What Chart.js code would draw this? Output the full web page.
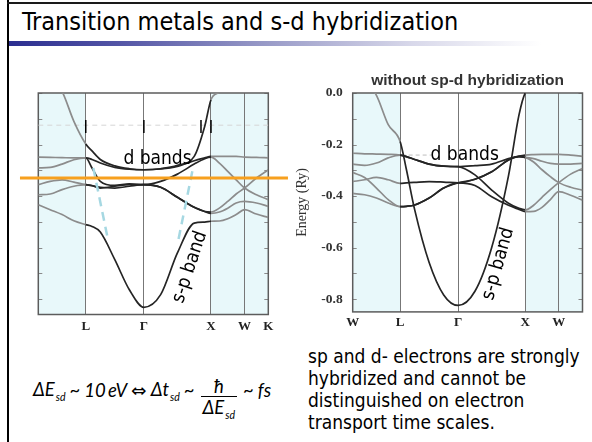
<!DOCTYPE html>
<html>
<head>
<meta charset="utf-8">
<title>Transition metals and s-d hybridization</title>
<script src="https://cdn.jsdelivr.net/npm/chart.js@4.4.1/dist/chart.umd.min.js"></script>
<style>
  html, body { margin: 0; padding: 0; background: #fff; }
  body { position: relative; width: 592px; height: 442px; overflow: hidden;
         font-family: "DejaVu Sans Condensed", "DejaVu Sans", sans-serif; color: #000; }
  .abs { position: absolute; }
  #edgeLeft { left: 6.5px; top: 0; width: 2.7px; height: 442px; background: #000; }
  #edgeTop { left: 6.5px; top: 2px; width: 586px; height: 1.6px; background: #1a1a1a; }
  #title { left: 22px; top: 9.3px; font-size: 25px; line-height: 25px; white-space: nowrap; }
  #rule { left: 9px; top: 41px; width: 560px; height: 4.5px;
          background: linear-gradient(to right, #2b2e90 0%, #5456a6 20%, #9698c6 45%, #d8d8ea 72%, #ffffff 95%); }
  canvas { position: absolute; }
  #hybCanvas { left: 10px; top: 85px; }
  #freeCanvas { left: 290px; top: 60px; }
  #formula { left: 33px; top: 365px; height: 50px; display: flex; align-items: center;
             font-family: Lato, "DejaVu Sans", sans-serif; font-style: italic; font-size: 18.5px; white-space: nowrap; }
  #formula sub { font-size: 10.5px; vertical-align: -5px; margin-left: 1px; }
  #formula .op { margin: 0 4px; }
  #formula .frac { display: inline-flex; flex-direction: column; align-items: center; margin: 0 2px;
                   position: relative; top: 10px; }
  #formula .num { padding: 0 0 1px 0; line-height: 18px; }
  #formula .den { border-top: 1px solid #000; padding: 1px 2px 0 2px; line-height: 18px; }
  #note { left: 308px; top: 345.4px; font-size: 19px; line-height: 22px; white-space: nowrap; }
</style>
</head>
<body>
<div id="edgeLeft" class="abs"></div>
<div id="edgeTop" class="abs"></div>
<div id="title" class="abs">Transition metals and s-d hybridization</div>
<div id="rule" class="abs"></div>

<canvas id="hybCanvas" width="290" height="255"></canvas>
<canvas id="freeCanvas" width="300" height="280"></canvas>

<div id="formula" class="abs">
  <span>&Delta;E<sub>sd</sub></span>
  <span class="op">~</span>
  <span>10&#8201;eV</span>
  <span class="op">&#8660;</span>
  <span>&Delta;t<sub>sd</sub></span>
  <span class="op">~</span>
  <span class="frac"><span class="num">&#295;</span><span class="den">&Delta;E<sub>sd</sub></span></span>
  <span class="op">~</span>
  <span>fs</span>
</div>

<div id="note" class="abs">sp and d- electrons are strongly<br>hybridized and cannot be<br>distinguished on electron<br>transport time scales.</div>

<script>
// fcc path W – L – Γ – X – W – K, distances in units of 2π/a
const kPath = [0, 0.707, 1.573, 2.573, 3.073, 3.427];
const pathLabelsHyb = ['', 'L', 'Γ', 'X', 'W', 'K'];
const pathLabelsFree = ['W', 'L', 'Γ', 'X', 'W', ''];
const energyTicks = [0, -0.2, -0.4, -0.6, -0.8];
const minorEnergyTicks = [0, -0.1, -0.2, -0.3, -0.4, -0.5, -0.6, -0.7, -0.8];

// sampling points along the path shared by every band
const kGrid = [0, 0.177, 0.354, 0.530, 0.707, 0.800, 0.924, 1.140, 1.357, 1.573,
               1.823, 2.073, 2.323, 2.480, 2.573, 2.698, 2.823, 2.948, 3.073, 3.250, 3.427];

// bands with s-p / d hybridization (Ry)
const hybBand1 = [0.15, 0.06, 0.006, -0.110, -0.198, -0.225, -0.258, -0.283, -0.294, -0.298,
                  -0.294, -0.281, -0.246, -0.129, -0.026, 0.004, 0.04, null, null, null, null];
const hybBand2 = [-0.249, -0.250, -0.251, -0.252, -0.252, -0.258, -0.272, -0.289, -0.296, -0.298,
                  -0.295, -0.285, -0.263, -0.252, -0.246, -0.246, -0.246, -0.246, -0.249, -0.250, -0.252];
const hybBand3 = [-0.291, -0.289, -0.276, -0.259, -0.252, -0.291, -0.343, -0.359, -0.353, -0.356,
                  -0.343, -0.315, -0.276, -0.255, -0.249, -0.272, -0.304, -0.337, -0.369, -0.395, -0.414];
const hybBand4 = [-0.356, -0.343, -0.337, -0.346, -0.356, -0.359, -0.369, -0.362, -0.356, -0.356,
                  -0.366, -0.405, -0.444, -0.460, -0.462, -0.447, -0.421, -0.392, -0.369, -0.330, -0.298];
const hybBand5 = [-0.395, -0.392, -0.375, -0.362, -0.356, -0.360, -0.366, -0.369, -0.362, -0.356,
                  -0.366, -0.405, -0.444, -0.460, -0.467, -0.462, -0.447, -0.427, -0.421, -0.427, -0.440];
const hybBand6 = [-0.434, -0.453, -0.472, -0.496, -0.511, -0.518, -0.540, -0.647, -0.764, -0.832,
                  -0.783, -0.621, -0.505, -0.501, -0.498, -0.497, -0.488, -0.472, -0.453, -0.470, -0.483];

// bands without sp-d hybridization (Ry)
const freeSp = [0.15, 0.05, -0.009, -0.123, -0.188, -0.296, -0.453, -0.658, -0.784, -0.825,
                -0.770, -0.600, -0.322, -0.085, 0.000, 0.020, null, null, null, null, null];
const freeD1 = [-0.234, -0.236, -0.237, -0.238, -0.241, -0.247, -0.258, -0.276, -0.284, -0.286,
                -0.282, -0.276, -0.255, -0.245, -0.241, -0.239, -0.238, -0.238, -0.238, -0.241, -0.246];
const freeD2 = [-0.276, -0.281, -0.272, -0.252, -0.241, -0.247, -0.258, -0.276, -0.284, -0.286,
                -0.318, -0.377, -0.428, -0.448, -0.454, -0.436, -0.405, -0.375, -0.348, -0.315, -0.293];
const freeD3 = [-0.344, -0.337, -0.328, -0.337, -0.351, -0.349, -0.347, -0.344, -0.346, -0.349,
                -0.335, -0.306, -0.260, -0.247, -0.250, -0.255, -0.265, -0.273, -0.276, -0.276, -0.273];
const freeD4 = [-0.309, -0.328, -0.369, -0.414, -0.441, -0.440, -0.435, -0.408, -0.369, -0.349,
                -0.335, -0.306, -0.260, -0.247, -0.250, -0.268, -0.298, -0.325, -0.348, -0.366, -0.377];
const freeD5 = [-0.390, -0.395, -0.408, -0.427, -0.441, -0.440, -0.435, -0.408, -0.369, -0.349,
                -0.359, -0.403, -0.436, -0.452, -0.461, -0.460, -0.444, -0.414, -0.383, -0.397, -0.416];

// Fermi level and the unhybridized s-p band sketched into the hybridized plot
const fermiLevel = -0.330;
const fermiSpanK = [-0.273, 3.72];
const guideK = [[0.820, 1.043], [2.295, 2.077]];
const guideE = [[-0.291, -0.576], [-0.304, -0.583]];
// short marks and faint reference lines from the scanned figure
const markK = [0.707, 1.573, 2.424, 2.573];
const markE = [-0.105, -0.155];
const hybRefE = -0.125;
const freeRefK = [0.73, 1.18];
const freeRefE = -0.241;

const SHADE = '#e8f8fa';
const pts = values => kGrid.map((k, i) => ({ x: k, y: values[i] }));
const pairPts = (ks, es) => ks.map((k, i) => ({ x: k, y: es[i] }));
const inShade = ctx => ctx.p0.parsed.x < kPath[1] - 1e-6 || ctx.p1.parsed.x > kPath[3] + 1e-6;

function bandSet(values) {
  return {
    data: pts(values), showLine: true, pointRadius: 0, borderWidth: 1.7,
    borderColor: '#252525', cubicInterpolationMode: 'monotone', order: 3,
    segment: { borderColor: ctx => inShade(ctx) ? '#8c8c8c' : undefined }
  };
}
function plainLine(data, color, width, dash, order, extra) {
  return Object.assign({ data, showLine: true, pointRadius: 0, borderColor: color,
    borderWidth: width, borderDash: dash, tension: 0, order }, extra || {});
}

const shadePlugin = {
  id: 'zoneShade',
  beforeDraw(chart) {
    const { ctx, chartArea: a, scales: { x } } = chart;
    ctx.save();
    ctx.fillStyle = SHADE;
    [[kPath[0], kPath[1]], [kPath[3], kPath[5]]].forEach(([k0, k1]) => {
      const x0 = x.getPixelForValue(k0), x1 = x.getPixelForValue(k1);
      ctx.fillRect(x0, a.top, x1 - x0, a.bottom - a.top);
    });
    ctx.restore();
  }
};

const framePlugin = {
  id: 'frame',
  beforeDatasetsDraw(chart) {
    const { ctx, chartArea: a, scales: { y } } = chart;
    ctx.save();
    ctx.strokeStyle = '#8a8a8a';
    ctx.lineWidth = 1;
    ctx.beginPath();
    minorEnergyTicks.forEach(v => {
      const py = Math.round(y.getPixelForValue(v)) + 0.5;
      ctx.moveTo(a.left, py); ctx.lineTo(a.left + 4, py);
      ctx.moveTo(a.right, py); ctx.lineTo(a.right - 4, py);
    });
    ctx.stroke();
    ctx.strokeStyle = '#5c5c5c';
    ctx.lineWidth = 1.5;
    ctx.strokeRect(a.left, a.top, a.right - a.left, a.bottom - a.top);
    ctx.restore();
  }
};

const notesPlugin = {
  id: 'notes',
  afterDatasetsDraw(chart, args, opts) {
    const { ctx, scales: { x, y } } = chart;
    ctx.save();
    ctx.fillStyle = '#000';
    ctx.font = '19px "DejaVu Sans Condensed", "DejaVu Sans", sans-serif';
    (opts.items || []).forEach(n => {
      ctx.save();
      ctx.translate(x.getPixelForValue(n.k), y.getPixelForValue(n.e));
      ctx.rotate(n.angle * Math.PI / 180);
      ctx.textAlign = 'center';
      ctx.textBaseline = n.baseline;
      ctx.fillText(n.text, 0, 0);
      ctx.restore();
    });
    ctx.restore();
  }
};

function kAxis(labels, padding, height) {
  return {
    type: 'linear', min: kPath[0], max: kPath[kPath.length - 1],
    afterBuildTicks: s => { s.ticks = kPath.map(v => ({ value: v })); },
    afterFit: s => { s.height = height; },
    ticks: { autoSkip: false, maxRotation: 0, minRotation: 0, padding, color: '#222',
             font: { family: 'Liberation Serif', size: 13, weight: 'bold' },
             callback: (v, i) => labels[i] },
    grid: { color: '#777', lineWidth: 1, drawTicks: false },
    border: { display: false }
  };
}

Chart.defaults.font.family = '"DejaVu Sans Condensed", "DejaVu Sans", sans-serif';

// hybridized bands
new Chart(document.getElementById('hybCanvas'), {
  type: 'scatter',
  data: {
    datasets: [
      plainLine(pairPts(fermiSpanK, [fermiLevel, fermiLevel]), '#f7a01e', 3, [], 0, { clip: false }),
      ...markK.map(k => plainLine(pairPts([k, k], markE), '#000', 1.5, [], 1)),
      ...guideK.map((ks, i) => plainLine(pairPts(ks, guideE[i]), '#a6d8e2', 2.5, [9, 6], 2)),
      bandSet(hybBand1), bandSet(hybBand2), bandSet(hybBand3),
      bandSet(hybBand4), bandSet(hybBand5), bandSet(hybBand6),
      plainLine(pairPts([kPath[0], kPath[5]], [hybRefE, hybRefE]), '#d6d6d6', 1, [5, 4], 5)
    ]
  },
  options: {
    responsive: false, animation: false, devicePixelRatio: 1,
    layout: { padding: { top: 8, right: 31.7, left: 0, bottom: 0 } },
    scales: {
      x: kAxis(pathLabelsHyb, 4.7, 25.5),
      y: { type: 'linear', min: -0.86, max: 0,
           afterFit: s => { s.width = 28.3; },
           ticks: { display: false }, grid: { display: false, drawTicks: false }, border: { display: false } }
    },
    plugins: {
      legend: { display: false }, tooltip: { enabled: false }, title: { display: false },
      notes: { items: [
        { text: 'd bands', k: 1.776, e: -0.276, angle: 0, baseline: 'alphabetic' },
        { text: 's-p band', k: 2.260, e: -0.676, angle: -71.5, baseline: 'middle' }
      ] }
    }
  },
  plugins: [shadePlugin, framePlugin, notesPlugin]
});

// bands without sp-d hybridization
new Chart(document.getElementById('freeCanvas'), {
  type: 'scatter',
  data: {
    datasets: [
      bandSet(freeSp), bandSet(freeD1), bandSet(freeD2),
      bandSet(freeD3), bandSet(freeD4), bandSet(freeD5),
      plainLine(pairPts(freeRefK, [freeRefE, freeRefE]), '#bdbdbd', 1, [4, 3], 5)
    ]
  },
  options: {
    responsive: false, animation: false, devicePixelRatio: 1,
    layout: { padding: { top: 0, right: 7.5, left: 0, bottom: 0 } },
    scales: {
      x: kAxis(pathLabelsFree, 3.3, 28.1),
      y: { type: 'linear', min: -0.85, max: 0,
           afterBuildTicks: s => { s.ticks = energyTicks.map(v => ({ value: v })); },
           afterFit: s => { s.width = 62.7; },
           ticks: { padding: 10, color: '#333',
                    font: { family: 'Liberation Serif', size: 13.5, weight: 'bold' },
                    callback: v => v.toFixed(1) },
           grid: { display: false, drawTicks: false }, border: { display: false },
           title: { display: true, text: 'Energy (Ry)', color: '#333',
                    font: { family: 'Liberation Serif', size: 14 }, padding: { top: 3.6, bottom: 0 } } }
    },
    plugins: {
      legend: { display: false }, tooltip: { enabled: false },
      title: { display: true, text: 'without sp-d hybridization', fullSize: false, color: '#333',
               font: { family: 'Liberation Sans', size: 15.5, weight: 'bold' },
               padding: { top: 11.7, bottom: 2.7 } },
      notes: { items: [
        { text: 'd bands', k: 1.670, e: -0.259, angle: 0, baseline: 'alphabetic' },
        { text: 's-p band', k: 2.171, e: -0.664, angle: -74, baseline: 'middle' }
      ] }
    }
  },
  plugins: [shadePlugin, framePlugin, notesPlugin]
});
</script>
</body>
</html>
